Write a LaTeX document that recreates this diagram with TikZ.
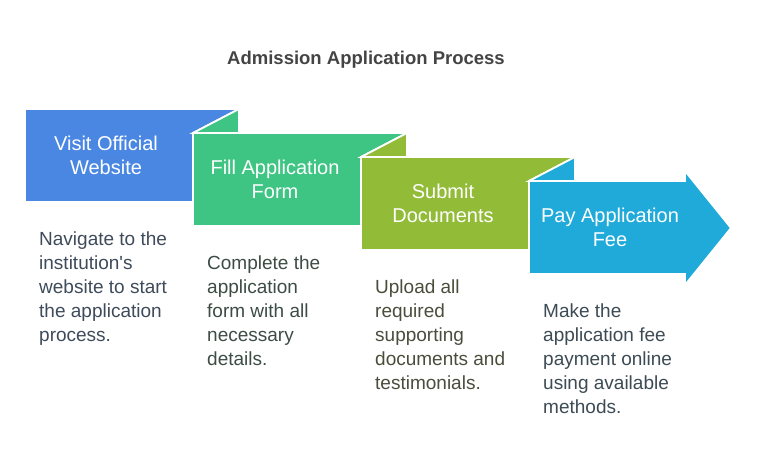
\documentclass[tikz,border=0pt]{standalone}
\usepackage{fontspec}
\setmainfont{Liberation Sans}
\definecolor{cA}{HTML}{4A87E3}
\definecolor{cB}{HTML}{3EC483}
\definecolor{cC}{HTML}{92BB38}
\definecolor{cD}{HTML}{1FAAD9}
\definecolor{tA}{HTML}{3F4B5B}
\definecolor{tB}{HTML}{3D4D45}
\definecolor{tC}{HTML}{4B4D3C}
\definecolor{tD}{HTML}{3D4B55}
\definecolor{titlec}{HTML}{444444}
\begin{document}
\begin{tikzpicture}[x=1pt,y=-1pt,
  shapebox/.style={draw=white,line width=1.8pt,line join=miter},
  lbl/.style={text=white,align=center,inner sep=0pt,font=\fontsize{20}{24}\selectfont},
  desc/.style={align=left,inner sep=0pt,anchor=north west,font=\fontsize{19}{24}\selectfont},
  ttl/.style={text=titlec,inner sep=0pt,font=\fontsize{18.5}{22}\selectfont\bfseries}]
\useasboundingbox[fill=white] (0,0) rectangle (757,468);
% step 1 body
\fill[cA,shapebox] (25,109) -- (239,109) -- (193,133) -- (193,202) -- (25,202) -- cycle;
% step 2
\fill[cB,shapebox] (193,133) -- (239,109) -- (239,133) -- cycle;
\fill[cB,shapebox] (193,133) -- (407,133) -- (361,157) -- (361,226) -- (193,226) -- cycle;
% step 3
\fill[cC,shapebox] (361,157) -- (407,133) -- (407,157) -- cycle;
\fill[cC,shapebox] (361,157) -- (575,157) -- (529,181) -- (529,250) -- (361,250) -- cycle;
% step 4
\fill[cD,shapebox] (529,181) -- (575,157) -- (575,181) -- cycle;
\fill[cD,shapebox] (529,181) -- (685,181) -- (685,171) -- (731,228) -- (685,285) -- (685,274) -- (529,274) -- cycle;
% title
\node[ttl] (title) at (366,60) {Admission Application Process};
% labels
\node[lbl] (l1) at (106,155.5) {Visit Official\\Website};
\node[lbl] (l2) at (275,179.5) {Fill Application\\Form};
\node[lbl] (l3) at (443,203.5) {Submit\\Documents};
\node[lbl] (l4) at (610,227.5) {Pay Application\\Fee};
% descriptions
\node[desc,text=tA] (d1) at (39,232) {Navigate to the\\institution\textquotesingle s\\website to start\\the application\\process.};
\node[desc,text=tB] (d2) at (207,256) {Complete the\\application\\form with all\\necessary\\details.};
\node[desc,text=tC] (d3) at (375,280) {Upload all\\required\\supporting\\documents and\\testimonials.};
\node[desc,text=tD] (d4) at (543,304) {Make the\\application fee\\payment online\\using available\\methods.};
\end{tikzpicture}
\end{document}
